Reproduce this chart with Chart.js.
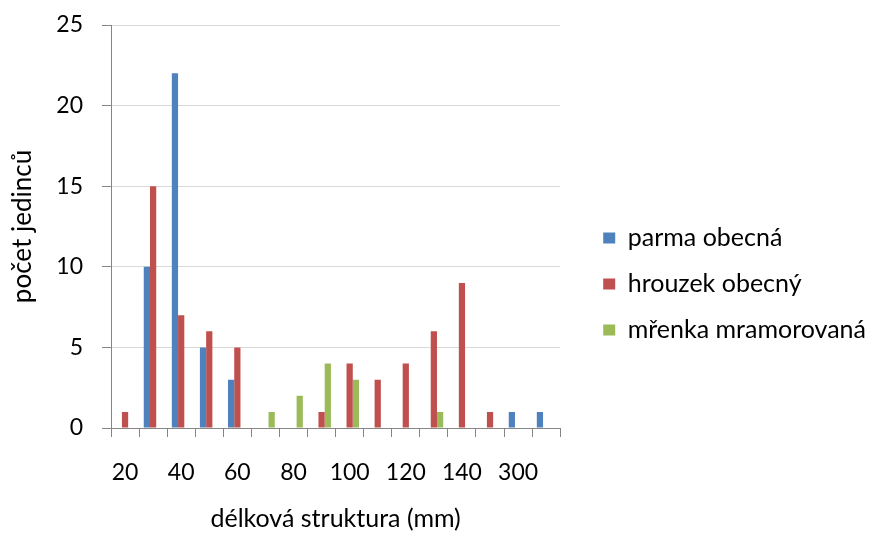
<!DOCTYPE html>
<html>
<head>
<meta charset="utf-8">
<script src="https://cdn.jsdelivr.net/npm/chart.js@4"></script>
<style>
  html, body { margin: 0; padding: 0; background: #fff; }
  #wrap { width: 869px; height: 534px; }
</style>
</head>
<body>
<div id="wrap"><canvas id="fishChart" width="869" height="534"></canvas></div>
<script>
// length classes (mm), only every second one gets a label
var lengthClasses = ['20', '30', '40', '50', '60', '70', '80', '90', '100', '110', '120', '130', '140', '150', '300', '310'];

var parmaCounts   = [0, 10, 22, 5, 3, 0, 0, 0, 0, 0, 0, 0, 0, 0, 1, 1];
var hrouzekCounts = [1, 15, 7, 6, 5, 0, 0, 1, 4, 3, 4, 6, 9, 1, 0, 0];
var mrenkaCounts  = [0, 0, 0, 0, 0, 1, 2, 4, 3, 0, 0, 1, 0, 0, 0, 0];

var yTicks = [0, 5, 10, 15, 20, 25];

var axisGrey = '#868686';
var gridGrey = '#d9d9d9';
var fontName = 'Lato';

Chart.defaults.font.family = fontName;
Chart.defaults.color = '#000';

var ctx = document.getElementById('fishChart').getContext('2d');
var fishChart = new Chart(ctx, {
    type: 'bar',
    data: {
        labels: lengthClasses,
        datasets: [{
            label: 'parma obecná',
            data: parmaCounts,
            backgroundColor: '#4F81BD'
        }, {
            label: 'hrouzek obecný',
            data: hrouzekCounts,
            backgroundColor: '#C0504D'
        }, {
            label: 'mřenka mramorovaná',
            data: mrenkaCounts,
            backgroundColor: '#9BBB59'
        }]
    },
    options: {
        responsive: false,
        animation: false,
        layout: {
            // legend padding spills a little past the right edge
            padding: { top: 25, left: 0, right: -7, bottom: 0 }
        },
        datasets: {
            bar: {
                categoryPercentage: 3 / 4.5,
                barPercentage: 1.0
            }
        },
        plugins: {
            tooltip: { enabled: false },
            legend: {
                position: 'right',
                maxWidth: 400,
                // empty title only pushes the items a bit lower
                title: {
                    display: true,
                    text: '',
                    font: { size: 6 },
                    padding: { top: 1, bottom: 1 }
                },
                labels: {
                    font: { family: fontName, size: 25 },
                    boxWidth: 12,
                    boxHeight: 11,
                    padding: 21
                }
            }
        },
        scales: {
            x: {
                grid: {
                    display: true,
                    drawOnChartArea: false,
                    drawTicks: true,
                    tickLength: 9,
                    color: axisGrey,
                    offset: true
                },
                border: { color: axisGrey },
                ticks: {
                    autoSkip: false,
                    maxRotation: 0,
                    padding: 22,
                    font: { size: 23 },
                    callback: function (value, index) {
                        return index % 2 === 0 ? this.getLabelForValue(value) : '';
                    }
                },
                title: {
                    display: true,
                    text: 'délková struktura (mm)',
                    font: { size: 25 },
                    padding: { top: 10, bottom: 0 }
                },
                afterFit: function (scale) {
                    scale.height = 106;
                }
            },
            y: {
                min: 0,
                max: 25,
                grid: {
                    color: gridGrey,
                    tickColor: axisGrey,
                    tickLength: 9
                },
                border: { color: axisGrey },
                afterBuildTicks: function (scale) {
                    scale.ticks = yTicks.map(function (v) { return { value: v }; });
                },
                ticks: {
                    padding: 19,
                    font: { size: 23 }
                },
                title: {
                    display: true,
                    text: 'počet jedinců',
                    font: { size: 26 },
                    padding: { top: 7, bottom: 0 }
                },
                afterFit: function (scale) {
                    scale.width = 111;
                    // top of the plot comes from layout.padding alone
                    scale.paddingTop = 0;
                    scale.paddingBottom = 0;
                }
            },
            // empty axis keeping a gap between the plot and the legend
            yGap: {
                axis: 'y',
                position: 'right',
                display: true,
                grid: { display: false },
                border: { display: false },
                ticks: { display: false },
                afterFit: function (scale) {
                    scale.width = 22;
                    scale.paddingTop = 0;
                    scale.paddingBottom = 0;
                }
            }
        }
    }
});
</script>
</body>
</html>
